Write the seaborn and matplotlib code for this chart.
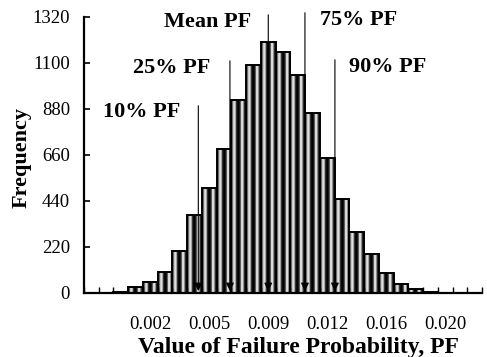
import numpy as np
import pandas as pd
import matplotlib
matplotlib.use("Agg")
import matplotlib.pyplot as plt
import seaborn as sns

# histogram of failure probability (Excel-style category axis, 27 bins)
bins = list(range(27))
frequency = [0, 0, 3, 26, 49, 98, 198, 370, 502, 688, 922, 1090, 1201, 1151,
             1042, 859, 642, 447, 292, 184, 93, 40, 16, 4, 0, 0, 0]

tick_bins = [4, 8, 12, 16, 20, 24]
tick_labels = ["0.002", "0.005", "0.009", "0.012", "0.016", "0.020"]

y_ticks = [0, 220, 440, 660, 880, 1100, 1320]

# percentile markers (value of PF)
marker_names = ["10% PF", "25% PF", "Mean PF", "75% PF", "90% PF"]
marker_pf = [0.00493, 0.00686, 0.00920, 0.01144, 0.01327]

# PF -> bin position (0.002 sits on bin 4, 0.0009 per bin)
def pf_to_bin(pf):
    return 4 + (pf - 0.002) / 0.0009

df = pd.DataFrame({"bin": bins, "freq": frequency})

sns.set_style("ticks")
plt.rcParams["font.family"] = ["Liberation Serif", "DejaVu Serif"]
plt.rcParams.update({"text.color": "black", "axes.labelcolor": "black",
                     "xtick.color": "black", "ytick.color": "black",
                     "axes.edgecolor": "black"})

fig = plt.figure(figsize=(4.87, 3.57), dpi=100)
ax = fig.add_axes([84 / 487, 1 - 292.7 / 357, (482 - 84) / 487, 276 / 357])

sns.barplot(data=df, x="bin", y="freq", order=bins, width=1.0,
            facecolor="none", edgecolor="black", linewidth=1.4, ax=ax)

# cylinder-like shading inside each bar
shade = np.array([[0.0, 0.6, 0.95, 0.7, 0.15, 0.0, 0.0, 0.3, 0.9, 0.85, 0.25, 0.0]])
for p in ax.patches:
    h = p.get_height()
    if h <= 0:
        continue
    x0 = p.get_x()
    im = ax.imshow(shade, cmap="gray", vmin=0, vmax=1, aspect="auto",
                   extent=[x0, x0 + p.get_width(), 0, h], zorder=0.5,
                   interpolation="bilinear")
    im.set_clip_path(p)

ax.set_xlim(-0.5, 26.5)
ax.set_ylim(0, 1320)
ax.set_yticks(y_ticks)

ax.set_xticks(tick_bins, tick_labels)
ax.set_xticks(np.arange(-0.5, 27, 1), minor=True)
ax.tick_params(axis="x", which="major", length=0, pad=16.5, labelsize=13.5)
ax.tick_params(axis="x", which="minor", direction="in", length=4, width=1)
ax.tick_params(axis="y", direction="in", length=4, width=1.2, pad=10, labelsize=13.5)

sns.despine(ax=ax)
for s in ["left", "bottom"]:
    ax.spines[s].set_linewidth(1.6)

ax.set_xlabel("Value of Failure Probability, PF", fontsize=17, fontweight="bold")
ax.xaxis.set_label_coords(0.538, -0.197)
ax.xaxis.label.set_va("center")
ax.set_ylabel("Frequency", fontsize=16, fontweight="bold")
ax.yaxis.set_label_coords(-0.156, 0.49)
ax.yaxis.label.set_va("center")

# vertical marker lines with arrows down to the axis
line_tops = [894, 1109, 1329, 1339, 1114]
text_y = [862, 1076, 1296, 1305, 1080]
text_dx = [-1.2, -1.36, -1.15, 1.0, 0.93]
for name, pf, top, ty, dx in zip(marker_names, marker_pf, line_tops, text_y, text_dx):
    xb = pf_to_bin(pf)
    ax.annotate("", xy=(xb, 8), xytext=(xb, top), annotation_clip=False,
                arrowprops=dict(arrowstyle="-|>", color="black", lw=0.8,
                                mutation_scale=12, shrinkA=0, shrinkB=0),
                zorder=3)
    ax.text(xb + dx, ty, name, ha="right" if dx < 0 else "left", va="center",
            fontsize=16, fontweight="bold", zorder=4)

fig.savefig("out.png", dpi=100)
